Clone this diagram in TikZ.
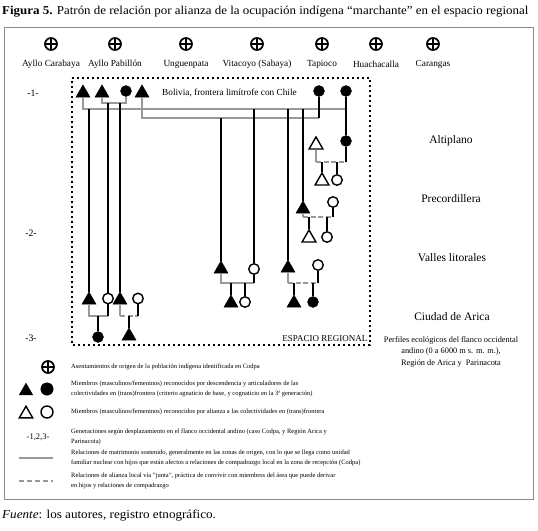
\documentclass[tikz,border=0pt]{standalone}
\usepackage{fontspec}
\setmainfont{Liberation Serif}
\newfontfamily\titlefont[FakeStretch=1.075]{Liberation Serif}
\usetikzlibrary{shapes.geometric}
\begin{document}
\begin{tikzpicture}[x=1pt,y=-1pt,
  ftri/.style={regular polygon, regular polygon sides=3, fill=black, draw=black, line width=0.5, minimum size=16, inner sep=0},
  otri/.style={regular polygon, regular polygon sides=3, fill=white, draw=black, line width=1.4, minimum size=16, inner sep=0},
  fcirc/.style={circle, fill=black, draw=black, minimum size=11, inner sep=0},
  ocirc/.style={circle, fill=white, draw=black, line width=1.4, minimum size=10.5, inner sep=0},
  oplus/.style={circle, draw=black, line width=1.7, minimum size=12, inner sep=0,
    path picture={\draw[line width=1.6] (path picture bounding box.north) -- (path picture bounding box.south)
      (path picture bounding box.west) -- (path picture bounding box.east);}},
  desc/.style={line width=1.5, black},
  marr/.style={line width=1.5, black!40},
  junta/.style={line width=1.5, black!40, dash pattern=on 5 off 2.5},
  lbl/.style={font=\fontsize{9.3}{10}\selectfont, inner sep=0},
  reg/.style={font=\fontsize{11.5}{12}\selectfont, inner sep=0},
  leg/.style={font=\fontsize{6.5}{10}\selectfont, inner sep=0, anchor=west, align=left},
]
\useasboundingbox (0,0) rectangle (538,530);
% title
\node[anchor=west, inner sep=0, font=\titlefont\fontsize{12.05}{13}\selectfont] (title) at (2,12)
  {\textbf{Figura 5.} Patrón de relación por alianza de la ocupación indígena “marchante” en el espacio regional};
% frame
\draw[black!45, line width=0.8] (4.5,27) rectangle (533,499);
% settlements
\foreach \n/\x/\t in {s1/51/Ayllo Carabaya, s2/115/Ayllo Pabillón, s3/186/Unguenpata, s4/257/Vitacoyo (Sabaya), s5/322/Tapioco, s6/376/Huachacalla, s7/433/Carangas}{
  \node[oplus] (\n) at (\x,44) {};
  \node[lbl] (\n l) at (\x,64) {\t};
}
% dotted regional box
\draw[line width=2.4, dash pattern=on 2.4 off 2.6] (72,78) -- (370,78) -- (370,345) -- (72,345) -- cycle;
\node[font=\fontsize{9}{10}\selectfont, anchor=south east, inner sep=0] (esp) at (367.5,342) {ESPACIO REGIONAL};
% generation labels
\node[lbl, font=\fontsize{9.8}{10}\selectfont] (g1) at (33,93) {-1-};
\node[lbl, font=\fontsize{9.8}{10}\selectfont] (g2) at (31,233) {-2-};
\node[lbl, font=\fontsize{9.8}{10}\selectfont] (g3) at (31,338) {-3-};
% region labels
\node[reg] (r1) at (451,141) {Altiplano};
\node[reg] (r2) at (451,199) {Precordillera};
\node[reg] (r3) at (452,258) {Valles litorales};
\node[reg] (r4) at (452,317) {Ciudad de Arica};
\node[font=\fontsize{8.3}{11.5}\selectfont, align=center, inner sep=0, anchor=north] (perf) at (451,336)
  {Perfiles ecológicos del flanco occidental\\andino (0 a 6000 m s. m. m.),\\Región de Arica y~ Parinacota};
\node[lbl, anchor=west] (bol) at (162,93) {Bolivia, frontera limítrofe con Chile};

% coordinates for marriage levels
\coordinate (M1) at (0,109);
\coordinate (M2) at (0,118);
\coordinate (M3) at (0,103);
\coordinate (MA) at (0,316);
\coordinate (MV) at (0,283);
\coordinate (MP) at (0,217);
\coordinate (ML) at (0,162);

% generation 1
\node[ftri] (T1) at (83,93) {};
\node[ftri] (T2) at (102,93) {};
\node[fcirc] (C1) at (126,91) {};
\node[ftri] (T3) at (142,93) {};
\node[fcirc] (C2) at (319,91) {};
\node[fcirc] (C3) at (346,91) {};

% generation 2 / 3 nodes
\node[ftri] (A1) at (89,300) {};
\node[ocirc] (A2) at (108,298.5) {};
\node[ftri] (A3) at (120,300) {};
\node[ocirc] (A4) at (138,298.5) {};
\node[fcirc] (A5) at (98,337) {};
\node[ftri] (A6) at (129,336) {};

\node[ftri] (V1) at (221,269) {};
\node[ocirc] (V2) at (254,269) {};
\node[ftri] (V5) at (231,303) {};
\node[ocirc] (V6) at (245,302) {};

\node[ftri] (V3) at (288,268) {};
\node[ocirc] (V4) at (318,265) {};
\node[ftri] (V7) at (294,303) {};
\node[fcirc] (V8) at (313,302) {};

\node[ftri] (P1) at (303,209) {};
\node[ocirc] (P2) at (333,202) {};
\node[otri] (P3) at (309,238) {};
\node[ocirc] (P4) at (327,237) {};

\node[otri] (L1) at (316,145) {};
\node[fcirc] (L2) at (346,141) {};
\node[otri] (L3) at (322,181) {};
\node[ocirc] (L4) at (337,180) {};

% marriage lines generation 1
\draw[marr] (T1.south) -- (T1.south |- M1) -- (C3.south |- M1);
\draw[marr] (T3.south) -- (T3.south |- M2) -- (C2.south |- M2);
\draw[marr] (T2.south) -- (T2.south |- M3) -- (C1.south |- M3) -- (C1.south);
\draw[desc] (C2.south) -- (C2.south |- M2);
\draw[desc] (C3.south) -- (L2.north);
% descent lines
\draw[desc] (A1.north |- M1) -- (A1.north);
\draw[desc] (A2.north |- M3) -- (A2.north);
\draw[desc] (A3.north |- M3) -- (A3.north);
\draw[desc] (V1.north |- M2) -- (V1.north);
\draw[desc] (V2.north |- M1) -- (V2.north);
\draw[desc] (V3.north |- M1) -- (V3.north);
\draw[desc] (P1.north |- M1) -- (P1.north);

% Arica couples
\draw[marr] (A1.south) -- (A1.south |- MA) -- (A2.south |- MA);
\draw[desc] (A2.south) -- (A2.south |- MA);
\draw[desc] (A5.north |- MA) -- (A5.north);
\draw[marr] (A3.south) -- (A3.south |- MA) -- (122,316 -| A3.south);
\draw[junta] (A3.south |- MA) -- (A4.south |- MA);
\draw[desc] (A4.south) -- (A4.south |- MA);
\draw[desc] (A6.north |- MA) -- (A6.north);
% Valles couples
\draw[marr] (V1.south) -- (V1.south |- MV) -- (V2.south |- MV);
\draw[desc] (V2.south) -- (V2.south |- MV);
\draw[desc] (V5.north |- MV) -- (V5.north);
\draw[desc] (V6.north |- MV) -- (V6.north);
\draw[marr] (V3.south) -- (V3.south |- MV);
\draw[junta] (V3.south |- MV) -- (V4.south |- MV);
\draw[desc] (V4.south) -- (V4.south |- MV);
\draw[desc] (V7.north |- MV) -- (V7.north);
\draw[desc] (V8.north |- MV) -- (V8.north);
% Precordillera couple
\draw[marr] (P1.south) -- (P1.south |- MP);
\draw[junta] (P1.south |- MP) -- (P2.south |- MP);
\draw[desc] (P2.south) -- (P2.south |- MP);
\draw[desc] (P3.north |- MP) -- (P3.north);
\draw[desc] (P4.north |- MP) -- (P4.north);
% Altiplano couple
\draw[marr] (L1.south) -- (L1.south |- ML);
\draw[junta] (L1.south |- ML) -- (L2.south |- ML);
\draw[desc] (L2.south) -- (L2.south |- ML);
\draw[desc] (L3.north |- ML) -- (L3.north);
\draw[desc] (L4.north |- ML) -- (L4.north);

% legend
\node[oplus] (k1) at (48,367) {};
\node[leg] (k1t) at (71,367) {Asentamientos de origen de la población indígena identificada en Codpa};
\node[ftri, minimum size=15.5] (k2a) at (26,391) {};
\node[fcirc, minimum size=12.5] (k2b) at (47,389) {};
\node[leg] (k2t) at (71,389) {Miembros (masculinos/femeninos) reconocidos por descendencia y articuladores de las\\colectividades en (trans)frontera (criterio agnaticio de base, y cognaticio en la 3ª generación)};
\node[otri, minimum size=15.5] (k3a) at (26,414) {};
\node[ocirc, minimum size=12] (k3b) at (47,412) {};
\node[leg] (k3t) at (71,412) {Miembros (masculinos/femeninos) reconocidos por alianza a las colectividades en (trans)frontera};
\node[lbl, font=\fontsize{8.5}{10}\selectfont] (k4) at (38,437) {-1,2,3-};
\node[leg] (k4t) at (71,437) {Generaciones según desplazamiento en el flanco occidental andino (caso Codpa, y Región Arica y\\Parinacota)};
\coordinate (k5a) at (19,458);
\coordinate (k5b) at (53,458);
\draw[marr, line width=1.2] (k5a) -- (k5b);
\node[leg] (k5t) at (71,458) {Relaciones de matrimonio sostenido, generalmente en las zonas de origen, con lo que se llega como unidad\\familiar nuclear con hijos que están afectos a relaciones de compadrazgo local en la zona de recepción (Codpa)};
\coordinate (k6a) at (19,481);
\coordinate (k6b) at (53,481);
\draw[junta, line width=1.2, dash pattern=on 5 off 3] (k6a) -- (k6b);
\node[leg] (k6t) at (71,481) {Relaciones de alianza local vía "junta", práctica de convivir con miembros del área que puede derivar\\en hijos y relaciones de compadrazgo};
% source
\node[anchor=west, inner sep=0, font=\titlefont\fontsize{12.2}{13}\selectfont] (src) at (2,516) {\textit{Fuente}: los autores, registro etnográfico.};
\end{tikzpicture}
\end{document}
